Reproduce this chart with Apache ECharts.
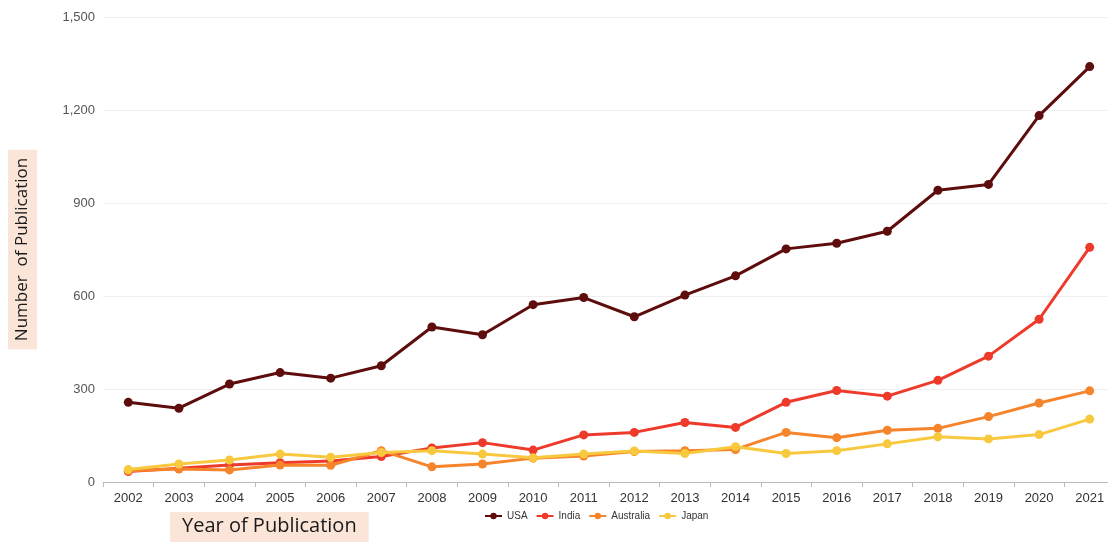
<!DOCTYPE html>
<html>
<head>
<meta charset="utf-8">
<script src="https://cdn.jsdelivr.net/npm/echarts@6/dist/echarts.min.js"></script>
<style>
  html, body { margin: 0; padding: 0; background: #fff; overflow: hidden; }
  /* the plot runs a little past the right edge in the original, so the canvas is wider than the window */
  #chart { width: 1116px; height: 543px; }
</style>
</head>
<body>
<div id="chart"></div>
<script>
const years = ['2002', '2003', '2004', '2005', '2006', '2007', '2008', '2009', '2010', '2011',
    '2012', '2013', '2014', '2015', '2016', '2017', '2018', '2019', '2020', '2021']

const usa = [257, 238, 316, 353, 335, 375, 500, 475, 572, 595, 533, 603, 665, 752, 770, 809, 941, 960, 1182, 1340]
const india = [34, 44, 55, 62, 68, 82, 110, 127, 103, 152, 160, 192, 176, 257, 295, 277, 328, 406, 525, 757]
const australia = [36, 42, 39, 55, 54, 101, 49, 58, 77, 84, 98, 101, 105, 160, 143, 167, 173, 211, 255, 294]
const japan = [40, 58, 71, 90, 80, 95, 101, 90, 78, 90, 100, 92, 114, 92, 101, 123, 146, 139, 153, 203]

const yTicks = [0, 300, 600, 900, 1200, 1500]

const seriesNames = ['USA', 'India', 'Australia', 'Japan']
const colors = ['#5e0c0c', '#ee3a2a', '#f5842b', '#f8c83e']

const chart = echarts.init(document.getElementById('chart'))

const makeLine = (name, data, color) => {
    return {
        name: name,
        type: 'line',
        data: data,
        symbol: 'circle',
        symbolSize: 9,
        lineStyle: {width: 3, color: color},
        itemStyle: {color: color},
        emphasis: {disabled: true}
    }
}

const option = {
    animation: false,
    color: colors,
    title: {
        text: 'Year of Publication',
        left: 170,
        top: 512,
        backgroundColor: '#fbe5d8',
        padding: [4, 12, 6, 12],
        textStyle: {
            fontFamily: 'Open Sans',
            fontSize: 20,
            fontWeight: 'normal',
            color: '#1a1a1a'
        }
    },
    legend: {
        data: seriesNames,
        bottom: 17,
        left: 479,
        itemWidth: 17,
        itemHeight: 8,
        itemGap: 8,
        textStyle: {
            fontFamily: 'Liberation Sans',
            fontSize: 10,
            color: '#333'
        }
    },
    grid: {
        left: 103,
        right: 1,
        top: 17,
        bottom: 61
    },
    xAxis: {
        type: 'category',
        data: years,
        boundaryGap: true,
        axisLine: {lineStyle: {color: '#bbb'}},
        axisTick: {show: true, lineStyle: {color: '#bbb'}},
        axisLabel: {
            fontFamily: 'Liberation Sans',
            fontSize: 13,
            color: '#333',
            margin: 10
        }
    },
    yAxis: {
        type: 'value',
        min: yTicks[0],
        max: yTicks[yTicks.length - 1],
        interval: 300,
        name: 'Number  of Publication',
        nameLocation: 'middle',
        nameRotate: 90,
        nameGap: 66,
        nameTextStyle: {
            fontFamily: 'Open Sans',
            fontSize: 17,
            color: '#1a1a1a',
            backgroundColor: '#fbe5d8',
            padding: [6, 8, 6, 8]
        },
        axisLine: {show: false},
        axisTick: {show: false},
        splitLine: {lineStyle: {color: '#eeeeee'}},
        axisLabel: {
            fontFamily: 'Liberation Sans',
            fontSize: 13,
            color: '#555',
            margin: 8,
            formatter: (v) => v.toLocaleString('en-US')
        }
    },
    series: [
        makeLine('USA', usa, colors[0]),
        makeLine('India', india, colors[1]),
        makeLine('Australia', australia, colors[2]),
        makeLine('Japan', japan, colors[3])
    ]
}

chart.setOption(option)
</script>
</body>
</html>
